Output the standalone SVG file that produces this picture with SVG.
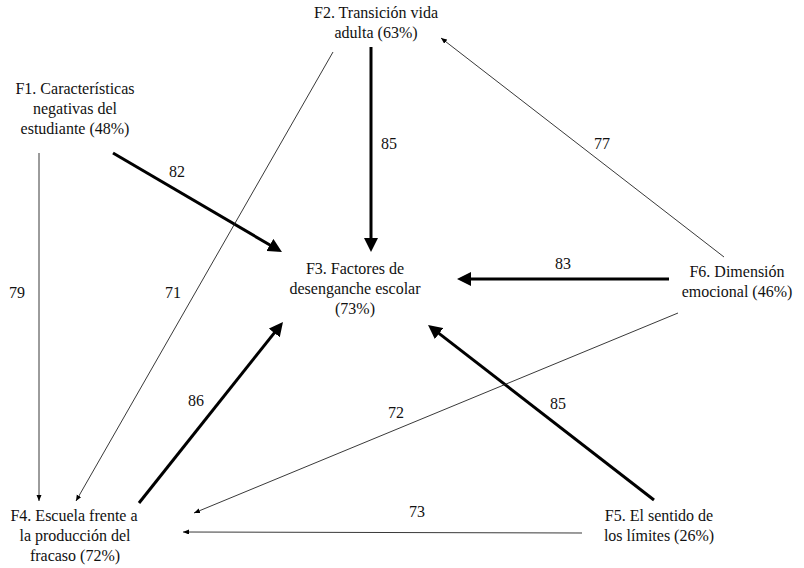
<svg xmlns="http://www.w3.org/2000/svg" width="804" height="568" viewBox="0 0 804 568">
<style>
text{font-family:"Liberation Serif",Tinos,"Times New Roman","DejaVu Serif",serif;font-size:16px;fill:#111;text-anchor:middle}
.thick{stroke:#000;stroke-width:3;fill:none;marker-end:url(#big)}
.thin{stroke:#222;stroke-width:0.9;fill:none;marker-end:url(#small)}
</style>
<defs>
<marker id="big" markerUnits="userSpaceOnUse" markerWidth="14" markerHeight="14" refX="10" refY="7" orient="auto">
<path d="M0,0 L14,7 L0,14 z" fill="#000"/>
</marker>
<marker id="small" markerUnits="userSpaceOnUse" markerWidth="7" markerHeight="6" refX="6" refY="2.5" orient="auto">
<path d="M0,0 L6,2.5 L0,5 z" fill="#000"/>
</marker>
</defs>
<rect width="804" height="568" fill="#fff"/>
<g id="connectors">
<line class="thick" x1="371" y1="47" x2="371" y2="248"/>
<line class="thick" x1="113" y1="153" x2="278.5" y2="250"/>
<line class="thick" x1="669" y1="279" x2="461" y2="279"/>
<line class="thick" x1="654" y1="500" x2="431.2" y2="327.4"/>
<line class="thick" x1="139" y1="503" x2="280.5" y2="325.1"/>
<line class="thin" x1="39" y1="153" x2="39" y2="501"/>
<line class="thin" x1="333" y1="52" x2="76" y2="501"/>
<line class="thin" x1="724" y1="257" x2="441" y2="38"/>
<line class="thin" x1="678" y1="313" x2="194" y2="513"/>
<line class="thin" x1="582" y1="533" x2="183" y2="532" stroke="#555"/>
</g>
<g id="edge-labels" font-family="Liberation Serif, serif">
<text x="17" y="298">79</text>
<text x="173" y="298">71</text>
<text x="177" y="177">82</text>
<text x="389" y="149">85</text>
<text x="602" y="149">77</text>
<text x="563" y="269">83</text>
<text x="196" y="406">86</text>
<text x="396" y="418">72</text>
<text x="558" y="409">85</text>
<text x="417" y="517">73</text>
</g>
<g id="F2">
<text x="376" y="18">F2. Transición vida</text>
<text x="376" y="38">adulta (63%)</text>
</g>
<g id="F1">
<text x="75" y="94">F1. Características</text>
<text x="75" y="114">negativas del</text>
<text x="75" y="134">estudiante (48%)</text>
</g>
<g id="F3">
<text x="355" y="274">F3. Factores de</text>
<text x="355" y="294">desenganche escolar</text>
<text x="355" y="314">(73%)</text>
</g>
<g id="F6">
<text x="737" y="277">F6. Dimensión</text>
<text x="737" y="297">emocional (46%)</text>
</g>
<g id="F4">
<text x="74" y="521">F4. Escuela frente a</text>
<text x="75" y="541">la producción del</text>
<text x="75" y="561">fracaso (72%)</text>
</g>
<g id="F5">
<text x="659" y="521">F5. El sentido de</text>
<text x="659" y="541">los límites (26%)</text>
</g>
</svg>
